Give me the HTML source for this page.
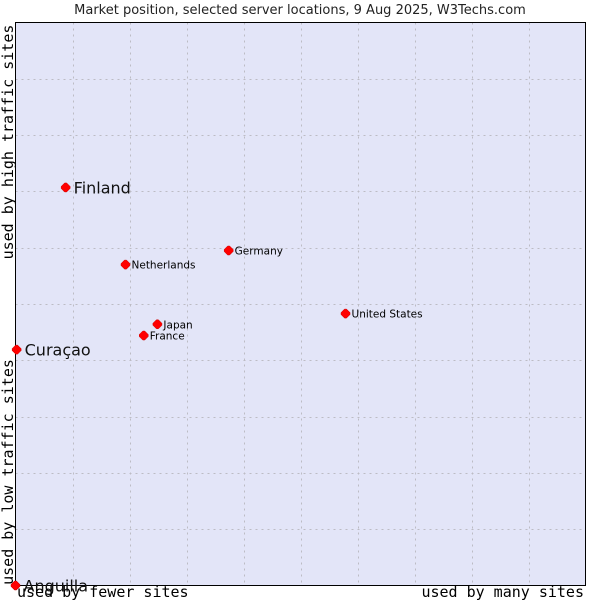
<!DOCTYPE html>
<html><head><meta charset="utf-8"><style>
body{margin:0;background:#fff;}
svg{display:block;}
</style></head><body>
<svg id="chart" width="600" height="600" xmlns="http://www.w3.org/2000/svg">
<rect x="0" y="0" width="600" height="600" fill="#fff"/>
<text x="300" y="14" text-anchor="middle" font-family="DejaVu Sans, sans-serif" font-size="13" fill="#222">Market position, selected server locations, 9 Aug 2025, W3Techs.com</text>
<rect x="15.5" y="22.5" width="570" height="563" fill="#e3e5f8"/>
<g id="grid"></g>
<rect x="15.5" y="22.5" width="570" height="563" fill="none" stroke="#000" stroke-width="1"/>
<g id="points"></g>
<text transform="translate(13,142) rotate(-90)" text-anchor="middle" font-family="DejaVu Sans Mono, monospace" font-size="15" fill="#000">used by high traffic sites</text>
<text transform="translate(13,472) rotate(-90)" text-anchor="middle" font-family="DejaVu Sans Mono, monospace" font-size="15" fill="#000">used by low traffic sites</text>
<text x="17" y="597" font-family="DejaVu Sans Mono, monospace" font-size="15" fill="#000">used by fewer sites</text>
<text x="584" y="597" text-anchor="end" font-family="DejaVu Sans Mono, monospace" font-size="15" fill="#000">used by many sites</text>
</svg>
<script>
const names = ["Finland","Netherlands","Germany","United States","Japan","France","Curaçao","Anguilla"];
const xValues = [8.8,19.3,37.4,57.9,24.9,22.5,0.2,0];
const yValues = [70.7,57.0,59.5,48.3,46.4,44.4,41.9,0];
const bigLabel = [true,false,false,false,false,false,true,true];
const gridTicks = [1,2,3,4,5,6,7,8,9];

const NS="http://www.w3.org/2000/svg";
const L=15.5,T=22.5,W=570,H=563;
const xs=v=>L+v/100*W;
const ys=v=>T+H-v/100*H;
const grid=document.getElementById('grid');
gridTicks.forEach(t=>{
  const v=document.createElementNS(NS,'line');
  const x=Math.round(xs(t*10))+0.5;
  v.setAttribute('x1',x);v.setAttribute('x2',x);v.setAttribute('y1',T);v.setAttribute('y2',T+H);
  v.setAttribute('stroke','#bcbcc4');v.setAttribute('stroke-dasharray','2,4');
  
  
  grid.appendChild(v);
  const h=document.createElementNS(NS,'line');
  const y=Math.round(ys(t*10))+0.5;
  h.setAttribute('x1',L);h.setAttribute('x2',L+W);h.setAttribute('y1',y);h.setAttribute('y2',y);
  h.setAttribute('stroke','#bcbcc4');h.setAttribute('stroke-dasharray','2,4');
  
  
  grid.appendChild(h);
});
const pts=document.getElementById('points');
names.forEach((n,i)=>{
  const x=xs(xValues[i]),y=ys(yValues[i]);
  const d=document.createElementNS(NS,'path');
  d.setAttribute('d',`M${x-4.5},${y-1} L${x-1},${y-4.5} L${x+1},${y-4.5} L${x+4.5},${y-1} L${x+4.5},${y+1} L${x+1},${y+4.5} L${x-1},${y+4.5} L${x-4.5},${y+1} Z`);
  d.setAttribute('fill','#f00');d.setAttribute('stroke','#c00');d.setAttribute('stroke-width','0.5');
  
  
  pts.appendChild(d);
  const t=document.createElementNS(NS,'text');
  t.textContent=n;
  t.setAttribute('font-family','DejaVu Sans, sans-serif');
  if(bigLabel[i]){t.setAttribute('font-size','16');t.setAttribute('x',x+8);t.setAttribute('y',y+6);t.setAttribute('fill','#111');}
  else{t.setAttribute('font-size','10.5');t.setAttribute('x',x+6);t.setAttribute('y',y+4);t.setAttribute('fill','#000');}
  
  
  pts.appendChild(t);
});
</script>
</body></html>
